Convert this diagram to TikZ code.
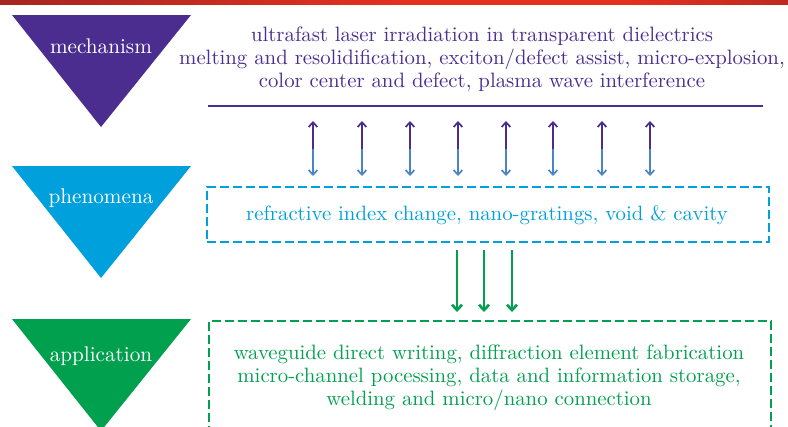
\documentclass[tikz,border=0pt]{standalone}
\usepackage{fontspec}
\setmainfont{lmroman10-regular}[Extension=.otf]
\usetikzlibrary{arrows.meta}

\definecolor{mechpurple}{HTML}{4B2D8F}
\definecolor{phencyan}{HTML}{00A0DC}
\definecolor{appgreen}{HTML}{00A04E}
\definecolor{halfblue}{HTML}{4A85C8}
\definecolor{bardark}{HTML}{2A0606}
\definecolor{barmid}{HTML}{9A2420}
\definecolor{barred}{HTML}{E3301F}

% left-to-right colour run of the header band
\pgfdeclarehorizontalshading{headband}{100bp}{color(0bp)=(bardark); color(20bp)=(barmid);
  color(50bp)=(barred); color(65bp)=(barred); color(85bp)=(barmid); color(100bp)=(bardark)}

\begin{document}
\begin{tikzpicture}[x=0.75pt,y=-0.75pt,
  bodyfont/.style={font=\fontsize{15.6}{17.25}\selectfont},
  bodytext/.style={bodyfont,align=center,inner sep=0pt},
  tagtext/.style={text=white,inner sep=0pt,font=\fontsize{15.9}{18}\selectfont},
  dashbox/.style={draw,line width=1.5pt,dash pattern=on 6.75pt off 3pt,inner sep=0pt,
    minimum width=421.5pt},
  purplehalf/.style={draw=mechpurple,line width=1.3pt,-{Straight Barb[length=3.5pt,width=6.5pt]}},
  bluehalf/.style={draw=halfblue,line width=1.3pt,-{Straight Barb[length=3.5pt,width=6.5pt]}},
  greenarrow/.style={draw=appgreen,line width=2pt,-{Straight Barb[length=4pt,width=7.5pt]}}]
\useasboundingbox (0,0) rectangle (788,426);
\clip (0,0) rectangle (788,426);

% thin header band
\shade[shading=headband] (0,0) rectangle (788,4);

% level markers
\fill[mechpurple] (12,15) -- (191,15) -- (101,127) -- cycle;
\node[tagtext] (mechtag) at (101,46) {mechanism};
\fill[phencyan] (12,166) -- (191,166) -- (101,278) -- cycle;
\node[tagtext] (phentag) at (101,198) {phenomena};
\fill[appgreen] (12,319) -- (191,319) -- (101,431) -- cycle;
\node[tagtext] (apptag) at (101,356) {application};

% mechanism level
\node[bodytext,text=mechpurple] (mechtext) at (482,59.5) {ultrafast laser irradiation in transparent dielectrics\\
melting and resolidification, exciton/defect assist, micro-explosion,\\
color center and defect, plasma wave interference};
\coordinate (ruleL) at (208,106);
\coordinate (ruleR) at (763,106);
\draw[mechpurple,line width=1.3pt] (ruleL) -- (ruleR);

% two-way links between mechanism and phenomena
\foreach \i/\x in {1/313,2/362,3/410,4/458,5/506,6/553,7/602,8/650}{
  \coordinate (up\i) at (\x,121);
  \coordinate (mid\i) at (\x,149);
  \coordinate (dn\i) at (\x,176);
  \draw[purplehalf] (mid\i) -- (up\i);
  \draw[bluehalf] (mid\i) -- (dn\i);
}

% phenomena level
\node[dashbox,draw=phencyan,minimum height=41.25pt] (phenbox) at (488,214.5) {};
\node[bodytext,text=phencyan] (phentext) at (487,215)
  {refractive index change, nano-gratings, void \& cavity};

% links from phenomena to application
\foreach \i/\x in {1/457,2/484,3/512}{
  \coordinate (gs\i) at (\x,250);
  \coordinate (ge\i) at (\x,312);
  \draw[greenarrow] (gs\i) -- (ge\i);
}

% application level
\node[dashbox,draw=appgreen,minimum height=82.5pt] (appbox) at (490,376) {};
\node[bodytext,text=appgreen] (apptext) at (489,378)
  {waveguide direct writing, diffraction element fabrication\\
micro-channel pocessing, data and information storage,\\
welding and micro/nano connection};
\end{tikzpicture}
\end{document}
